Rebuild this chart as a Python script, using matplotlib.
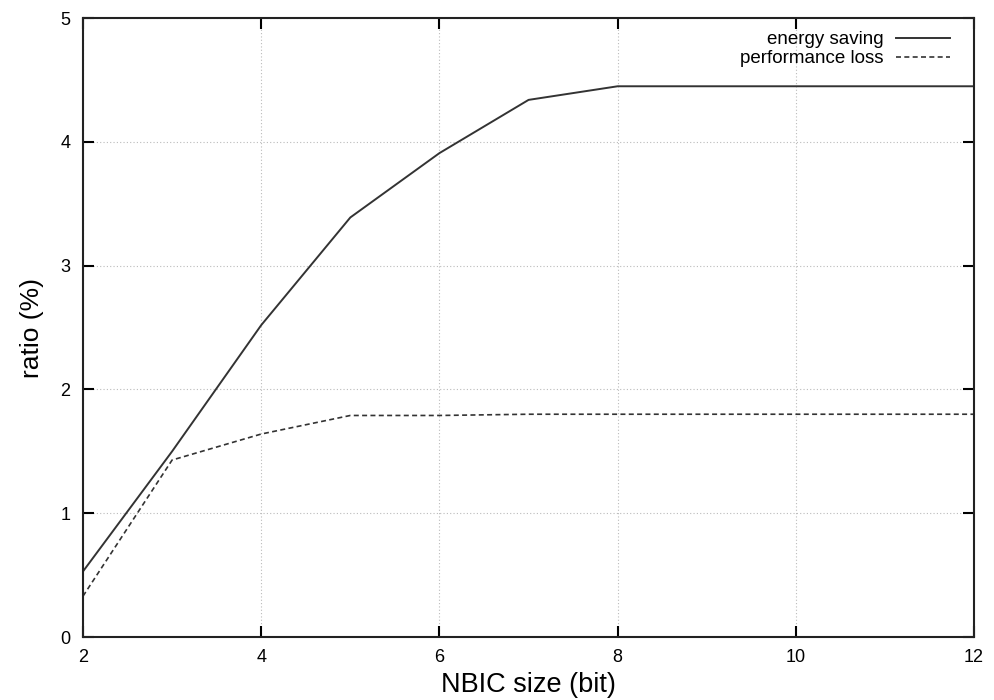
import matplotlib
matplotlib.use("Agg")
import matplotlib.pyplot as plt

plt.rcParams["font.family"] = ["Liberation Sans", "DejaVu Sans"]

nbic_bits = [2, 3, 4, 5, 6, 7, 8, 9, 10, 11, 12]
energy_saving = [0.53, 1.50, 2.52, 3.39, 3.91, 4.34, 4.45, 4.45, 4.45, 4.45, 4.45]
performance_loss = [0.33, 1.43, 1.64, 1.79, 1.79, 1.80, 1.80, 1.80, 1.80, 1.80, 1.80]

fig = plt.figure(figsize=(9.94, 7.0), dpi=100)
ax = fig.add_axes([0.0835, 0.09, 0.8965, 0.884])

ax.plot(nbic_bits, energy_saving, color="#333333", lw=1.4, label="energy saving")
ax.plot(nbic_bits, performance_loss, color="#333333", lw=1.2,
        linestyle=(0, (3, 2)), label="performance loss")

ax.set_xlim(2, 12)
ax.set_ylim(0, 5)
ax.set_xticks([2, 4, 6, 8, 10, 12])
ax.set_yticks([0, 1, 2, 3, 4, 5])
ax.grid(True, color="#bbbbbb", linestyle=(0, (1, 2)), lw=0.8)

ax.tick_params(direction="in", length=8, width=1.5, top=True, right=True,
               labelsize=13, pad=9)
for s in ax.spines.values():
    s.set_linewidth(1.5)
    s.set_color("#222222")

ax.set_xlabel("NBIC size (bit)", fontsize=19.5, labelpad=4)
ax.set_ylabel("ratio (%)", fontsize=19, labelpad=12)

ax.legend(loc="upper right", frameon=False, markerfirst=False, fontsize=13.5,
          handlelength=2.9, handletextpad=0.65, labelspacing=0.1,
          borderaxespad=0.3, bbox_to_anchor=(0.988, 1.0))

fig.savefig("out.png", dpi=100)
